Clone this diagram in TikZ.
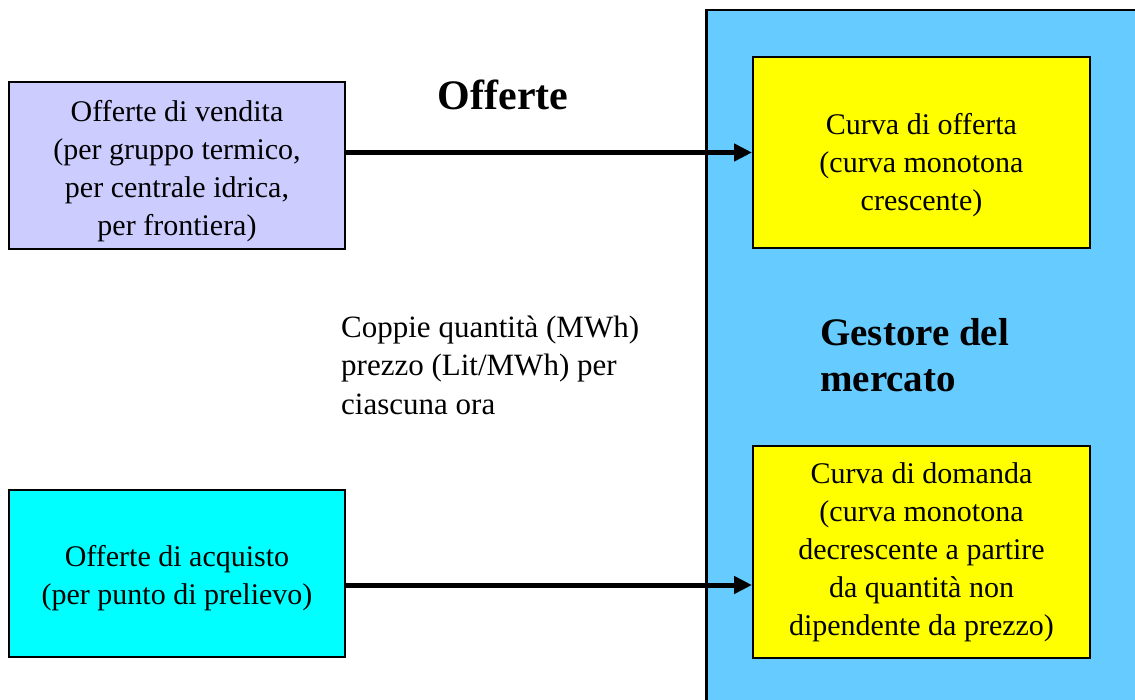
\documentclass[tikz,border=0pt]{standalone}
\usepackage{fontspec}
\setmainfont{Liberation Serif}
\usetikzlibrary{arrows.meta,calc}
\definecolor{lav}{HTML}{CCCCFF}
\definecolor{cyn}{HTML}{00FFFF}
\definecolor{sky}{HTML}{66CCFF}
\definecolor{yel}{HTML}{FFFF00}
\tikzset{
  box/.style={draw=black, line width=2pt, inner sep=0pt},
  boxtext/.style={align=center, inner sep=0pt, font=\fontsize{30}{38}\selectfont},
  flow/.style={line width=5pt, -{Triangle[length=18pt,width=17pt]}},
  plain/.style={align=left, inner sep=0pt, anchor=west, font=\fontsize{31}{38.5}\selectfont},
  bold/.style={inner sep=0pt, font=\fontsize{39}{46}\selectfont\bfseries}
}
\begin{document}
\begin{tikzpicture}[x=1pt,y=-1pt]
\useasboundingbox (0,0) rectangle (1135,700);
\clip (0,0) rectangle (1135,700);
\node[draw=black, line width=2.5pt, fill=sky, minimum width=460pt, minimum height=720pt, inner sep=0pt, anchor=north west] (gm) at (705,9) {};
\node[box, fill=lav, minimum width=336pt, minimum height=167pt] (ov) at (177,165.5) {};
\node[box, fill=cyn, minimum width=336pt, minimum height=167pt] (oa) at (177,573.5) {};
\node[box, fill=yel, minimum width=337pt, minimum height=191pt] (co) at (921.5,152.5) {};
\node[box, fill=yel, minimum width=337pt, minimum height=212pt] (cd) at (921.5,552) {};
\node[boxtext] (ovt) at (177,171) {Offerte di vendita\\(per gruppo termico,\\per centrale idrica,\\per frontiera)};
\node[boxtext] (oat) at (177,578.5) {Offerte di acquisto\\(per punto di prelievo)};
\node[boxtext] (cot) at (921.5,165) {Curva di offerta\\(curva monotona\\crescente)};
\node[boxtext] (cdt) at (921.5,552) {Curva di domanda\\(curva monotona\\decrescente a partire\\da quantità non\\dipendente da prezzo)};
\node[bold, font=\fontsize{42}{48}\selectfont\bfseries] (tit) at (503,95) {Offerte};
\node[bold, align=left, anchor=west] (gest) at (820,355) {Gestore del\\mercato};
\node[plain] (cp) at (341,365) {Coppie quantità (MWh)\\prezzo (Lit/MWh) per\\ciascuna ora};
\coordinate (a1) at (ov.east |- co.west);
\coordinate (a2) at ($(oa.east)+(0,11.5)$);
\draw[flow] (a1) -- (co.west);
\draw[flow] (a2) -- (a2 -| cd.west);
\end{tikzpicture}
\end{document}
